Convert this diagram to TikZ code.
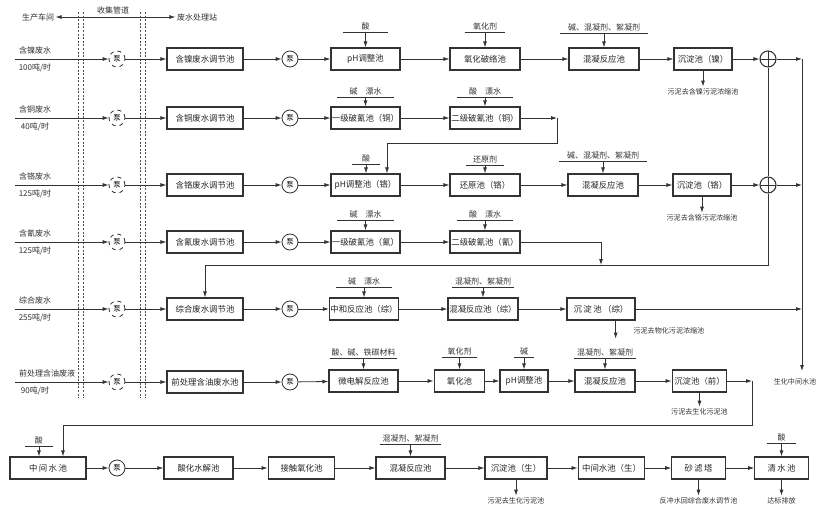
\documentclass[tikz,border=0pt]{standalone}
\usepackage{fontspec}
\setmainfont{Noto Sans CJK SC}
\usetikzlibrary{arrows.meta}
\newcommand\mkreag[5]{%
  \node[reag, minimum width=#4] (#1) at (#2.north |- 0,#3) {#5};
  \draw[ln] (#1.south west) -- (#1.south east);
  \draw[arr] (#1.south) -- (#2.north);}
\begin{document}
\begin{tikzpicture}[x=0.75pt,y=-0.75pt,
  ln/.style={draw=black!80, line width=0.6pt},
  arr/.style={ln, -{Latex[length=4.5pt,width=3pt]}},
  box/.style={draw=black!80, line width=0.9pt, minimum height=16.5pt, inner sep=0pt, font=\fontsize{6.3}{7}\selectfont, text=black!85},
  lab/.style={inner sep=1pt, font=\fontsize{6}{7}\selectfont, text=black!80},
  small/.style={inner sep=1pt, font=\fontsize{5.3}{6}\selectfont, text=black!80},
  reag/.style={lab, anchor=south, inner sep=1.2pt},
  pumpd/.style={circle, draw=black!80, dashed, line width=0.6pt, minimum size=12pt, inner sep=0pt, font=\fontsize{5.5}{6}\selectfont},
  pumps/.style={circle, draw=black!80, line width=0.6pt, minimum size=12pt, inner sep=0pt, font=\fontsize{5.5}{6}\selectfont},
  valve/.style={circle, draw=black!80, line width=0.8pt, minimum size=12pt, inner sep=0pt,
    path picture={\draw[black!80,line width=0.6pt] (path picture bounding box.north) -- (path picture bounding box.south) (path picture bounding box.west) -- (path picture bounding box.east);}},
]
\useasboundingbox[fill=white] (0,0) rectangle (818,518);

% ---------- top ----------
\node[lab] (scj) at (38,17) {生产车间};
\node[lab] (fsz) at (197,17) {废水处理站};
\draw[ln, {Latex[length=4.5pt,width=3pt]}-{Latex[length=4.5pt,width=3pt]}] (scj) -- (fsz);
\node[lab, anchor=south] (sjgd) at (113,16) {收集管道};
\foreach \x in {78,83,140,145}
  \draw[black!70, line width=0.7pt, dash pattern=on 1.5pt off 1.2pt] (\x,12) -- (\x,398);

% ---------- row 1 ----------
\coordinate (s1) at (15,59);
\node[lab, anchor=south] (t1a) at (35,56) {含镍废水};
\node[lab, anchor=north] (t1b) at (35,62) {100吨/时};
\node[pumpd] (p1) at (117,59) {泵};
\node[box, minimum width=57pt] (a1) at (205,59) {含镍废水调节池};
\node[pumps] (q1) at (290,59) {泵};
\node[box, minimum width=51.75pt] (b1) at (365.5,59) {pH调整池};
\node[box, minimum width=52.5pt] (c1) at (485,59) {氧化破络池};
\node[box, minimum width=52.5pt] (d1) at (604,59) {混凝反应池};
\node[box, minimum width=43.5pt] (e1) at (703,59) {沉淀池（镍）};
\node[valve] (v1) at (768,59) {};
\coordinate (o1) at (802,59);
\draw[arr] (s1) -- (p1);
\draw[arr] (p1) -- (a1);
\draw[arr] (a1) -- (q1);
\draw[arr] (q1) -- (b1);
\draw[arr] (b1) -- (c1);
\draw[arr] (c1) -- (d1);
\draw[arr] (d1) -- (e1);
\draw[arr] (e1) -- (v1);
\draw[arr] (v1) -- (o1);
\mkreag{r1b}{b1}{32}{34pt}{酸}
\mkreag{r1c}{c1}{32}{30pt}{氧化剂}
\mkreag{r1d}{d1}{33}{66pt}{碱、混凝剂、絮凝剂}
\draw[arr] (e1.south) -- ++(0,16) coordinate (u1);
\node[small, anchor=north] (x1) at (u1) {污泥去含镍污泥浓缩池};

% ---------- row 2 ----------
\coordinate (s2) at (15,118);
\node[lab, anchor=south] (t2a) at (35,115) {含铜废水};
\node[lab, anchor=north] (t2b) at (35,121) {40吨/时};
\node[pumpd] (p2) at (117,118) {泵};
\node[box, minimum width=57pt] (a2) at (205,118) {含铜废水调节池};
\node[pumps] (q2) at (290,118) {泵};
\node[box, minimum width=51.75pt] (b2) at (365.5,118) {一级破氰池（铜）};
\node[box, minimum width=52.5pt] (c2) at (485,118) {二级破氰池（铜）};
\coordinate (k2) at (557,118);
\coordinate (k2b) at (557,143);
\coordinate (k2c) at (387,143);
\draw[arr] (s2) -- (p2);
\draw[arr] (p2) -- (a2);
\draw[arr] (a2) -- (q2);
\draw[arr] (q2) -- (b2);
\draw[arr] (b2) -- (c2);
\draw[arr] (c2) -- (k2);
\mkreag{r2b}{b2}{97}{42pt}{碱　漂水}
\mkreag{r2c}{c2}{97}{42pt}{酸　漂水}

% ---------- row 3 ----------
\coordinate (s3) at (15,185);
\node[lab, anchor=south] (t3a) at (35,182) {含铬废水};
\node[lab, anchor=north] (t3b) at (35,188) {125吨/时};
\node[pumpd] (p3) at (117,185) {泵};
\node[box, minimum width=57pt] (a3) at (205,185) {含铬废水调节池};
\node[pumps] (q3) at (290,185) {泵};
\node[box, minimum width=51.75pt] (b3) at (365.5,185) {pH调整池（铬）};
\node[box, minimum width=52.5pt] (c3) at (485,185) {还原池（铬）};
\node[box, minimum width=52.5pt] (d3) at (603,185) {混凝反应池};
\node[box, minimum width=43.5pt] (e3) at (702,185) {沉淀池（铬）};
\node[valve] (v3) at (768,185) {};
\coordinate (o3) at (802,185);
\draw[ln] (k2) -- (k2b) -- (k2c);
\draw[arr] (k2c) -- (k2c |- b3.north);
\draw[arr] (s3) -- (p3);
\draw[arr] (p3) -- (a3);
\draw[arr] (a3) -- (q3);
\draw[arr] (q3) -- (b3);
\draw[arr] (b3) -- (c3);
\draw[arr] (c3) -- (d3);
\draw[arr] (d3) -- (e3);
\draw[arr] (e3) -- (v3);
\draw[arr] (v3) -- (o3);
\node[reag, minimum width=21pt] (r3b) at (366,164) {酸};
\draw[ln] (r3b.south west) -- (r3b.south east);
\draw[arr] (r3b.south) -- (r3b.south |- b3.north);
\mkreag{r3c}{c3}{165}{28pt}{还原剂}
\mkreag{r3d}{d3}{161}{66pt}{碱、混凝剂、絮凝剂}
\draw[arr] (e3.south) -- ++(0,16) coordinate (u3);
\node[small, anchor=north] (x3) at (u3) {污泥去含铬污泥浓缩池};

% ---------- row 4 ----------
\coordinate (s4) at (15,242);
\node[lab, anchor=south] (t4a) at (35,239) {含氰废水};
\node[lab, anchor=north] (t4b) at (35,245) {125吨/时};
\node[pumpd] (p4) at (117,242) {泵};
\node[box, minimum width=57pt] (a4) at (205,242) {含氰废水调节池};
\node[pumps] (q4) at (290,242) {泵};
\node[box, minimum width=51.75pt] (b4) at (365.5,242) {一级破氰池（氰）};
\node[box, minimum width=52.5pt] (c4) at (485,242) {二级破氰池（氰）};
\coordinate (k4) at (601,242);
\coordinate (k4b) at (601,265);
\draw[arr] (s4) -- (p4);
\draw[arr] (p4) -- (a4);
\draw[arr] (a4) -- (q4);
\draw[arr] (q4) -- (b4);
\draw[arr] (b4) -- (c4);
\draw[ln] (c4) -- (k4);
\draw[arr] (k4) -- (k4b);
\mkreag{r4b}{b4}{220}{42pt}{碱　漂水}
\mkreag{r4c}{c4}{220}{42pt}{酸　漂水}

% ---------- return line ----------
\coordinate (ra) at (768,265);
\coordinate (rb) at (205,265);
\draw[ln] (v1) -- (v3);
\draw[ln] (v3) -- (ra) -- (rb);

% ---------- row 5 ----------
\coordinate (s5) at (15,309);
\node[lab, anchor=south] (t5a) at (35,306) {综合废水};
\node[lab, anchor=north] (t5b) at (35,312) {255吨/时};
\node[pumpd] (p5) at (117,309) {泵};
\node[box, minimum width=57pt] (a5) at (205,309) {综合废水调节池};
\node[pumps] (q5) at (290,309) {泵};
\node[box, minimum width=51.75pt] (b5) at (364,309) {中和反应池（综）};
\node[box, minimum width=52.5pt] (c5) at (483,309) {混凝反应池（综）};
\node[box, minimum width=51pt] (d5) at (601,309) {沉\,淀\,池\,（综）};
\coordinate (o5) at (802,309);
\draw[arr] (rb) -- (a5);
\draw[arr] (s5) -- (p5);
\draw[arr] (p5) -- (a5);
\draw[arr] (a5) -- (q5);
\draw[arr] (q5) -- (b5);
\draw[arr] (b5) -- (c5);
\draw[arr] (c5) -- (d5);
\draw[arr] (d5) -- (o5);
\mkreag{r5b}{b5}{287}{42pt}{碱　漂水}
\mkreag{r5c}{c5}{287}{46pt}{混凝剂、絮凝剂}
\draw[arr] ([xshift=11pt]d5.south) -- ++(0,18) coordinate (u5);
\node[small, anchor=west] (x5) at (632,331) {污泥去物化污泥浓缩池};

% ---------- right collector ----------
\node[small, anchor=north] (shzj) at (795,377) {生化中间水池};
\draw[ln] (o1) -- (o3);
\draw[ln] (o3) -- (o5);
\draw[arr] (o5) -- (o5 |- 0,371);

% ---------- row 6 ----------
\coordinate (s6) at (15,382);
\node[lab, anchor=south] (t6a) at (47,379) {前处理含油废液};
\node[lab, anchor=north] (t6b) at (35,385) {90吨/时};
\node[pumpd] (p6) at (117,382) {泵};
\node[box, minimum width=57pt] (a6) at (205,382) {前处理含油废水池};
\node[pumps] (q6) at (290,382) {泵};
\node[box, minimum width=51.75pt] (b6) at (363.5,381) {微电解反应池};
\node[box, minimum width=38pt] (c6) at (459.5,381) {氧化池};
\node[box, minimum width=36pt] (f6) at (524,381) {pH调整池};
\node[box, minimum width=45pt] (d6) at (605,381) {混凝反应池};
\node[box, minimum width=41pt] (e6) at (699.5,381) {沉淀池（前）};
\coordinate (k6) at (752,381);
\coordinate (k6b) at (752,425);
\coordinate (k6c) at (63,425);
\draw[arr] (s6) -- (p6);
\draw[arr] (p6) -- (a6);
\draw[arr] (a6) -- (q6);
\draw[arr] (q6) -- (b6);
\draw[arr] (b6) -- (c6);
\draw[arr] (c6) -- (f6);
\draw[arr] (f6) -- (d6);
\draw[arr] (d6) -- (e6);
\draw[arr] (e6) -- (k6);
\mkreag{r6b}{b6}{358}{46pt}{酸、碱、铁碳材料}
\mkreag{r6c}{c6}{357}{26pt}{氧化剂}
\mkreag{r6f}{f6}{357}{14pt}{碱}
\mkreag{r6d}{d6}{358}{46pt}{混凝剂、絮凝剂}
\draw[arr] (e6.south) -- ++(0,14) coordinate (u6);
\node[small, anchor=north] (x6) at (u6) {污泥去生化污泥池};

% ---------- row 7 ----------
\node[box, minimum width=57pt] (m7) at (48,468) {中\,间\,水\,池};
\node[pumps] (p7) at (117,468) {泵};
\node[box, minimum width=51.75pt] (h7) at (198.5,468) {酸化水解池};
\node[box, minimum width=50pt] (i7) at (301.5,468) {接触氧化池};
\node[box, minimum width=51.75pt] (j7) at (410.5,468) {混凝反应池};
\node[box, minimum width=46.5pt] (k7) at (516,468) {沉淀池（生）};
\node[box, minimum width=50pt] (l7) at (611.5,468) {中间水池（生）};
\node[box, minimum width=40pt] (n7) at (698.5,468) {砂\,滤\,塔};
\node[box, minimum width=40pt] (w7) at (781.5,468) {清\,水\,池};
\draw[ln] (k6) -- (k6b) -- (k6c);
\draw[arr] (k6c) -- (k6c |- m7.north);
\node[reag, minimum width=20pt] (r7m) at (39,446) {酸};
\draw[ln] (r7m.south west) -- (r7m.south east);
\draw[arr] (r7m.south) -- (r7m.south |- m7.north);
\draw[arr] (m7) -- (p7);
\draw[arr] (p7) -- (h7);
\draw[arr] (h7) -- (i7);
\draw[arr] (i7) -- (j7);
\draw[arr] (j7) -- (k7);
\draw[arr] (k7) -- (l7);
\draw[arr] (l7) -- (n7);
\draw[arr] (n7) -- (w7);
\mkreag{r7j}{j7}{444}{46pt}{混凝剂、絮凝剂}
\mkreag{r7w}{w7}{443}{22pt}{酸}
\draw[arr] (k7.south) -- ++(0,16) coordinate (u7k);
\node[small, anchor=north] (x7k) at (u7k) {污泥去生化污泥池};
\draw[arr] (n7.south) -- ++(0,16) coordinate (u7n);
\node[small, anchor=north] (x7n) at (u7n) {反冲水回综合废水调节池};
\draw[arr] (w7.south) -- ++(0,16) coordinate (u7w);
\node[small, anchor=north] (x7w) at (u7w) {达标排放};
\end{tikzpicture}
\end{document}
